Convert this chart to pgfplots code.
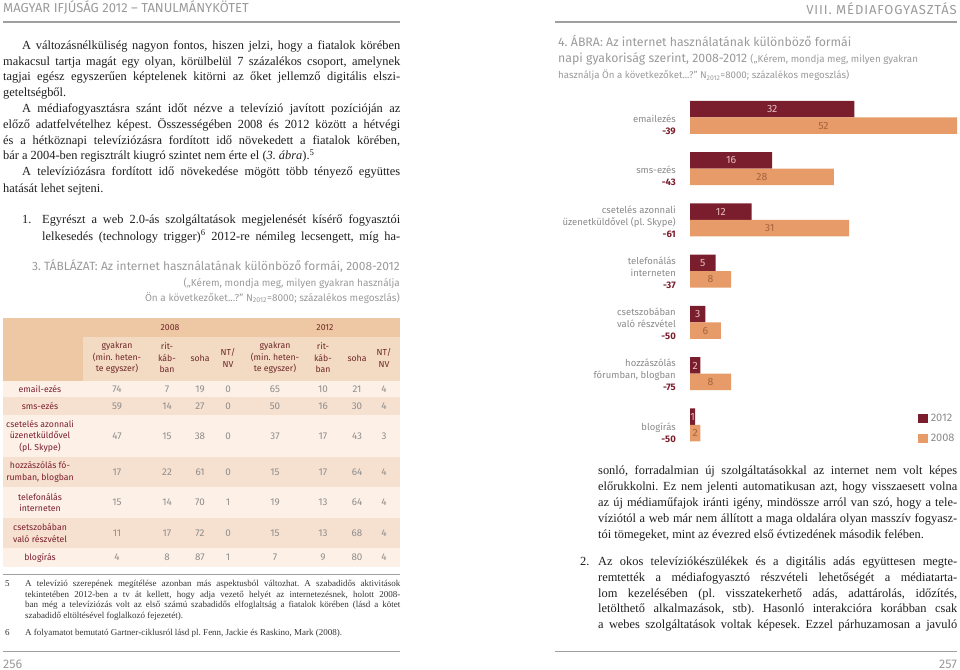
\documentclass[border=0pt]{standalone}
\usepackage{pgfplots}
\pgfplotsset{compat=1.18}
\usepackage{fontspec}
\setmainfont{Liberation Serif}
\newfontfamily\dinf{Fira Sans}
\definecolor{dred}{HTML}{7A1E2D}
\definecolor{orng}{HTML}{E69B69}
\definecolor{lpink}{HTML}{E6BEBE}
\definecolor{brn}{HTML}{A8643C}
\definecolor{lgray}{HTML}{8A8A8A}
\definecolor{tgray}{HTML}{9A9A9A}
\definecolor{rulec}{HTML}{A0A0A0}
\definecolor{hA}{HTML}{EEC8A5}
\definecolor{hB}{HTML}{F3DAC3}
\definecolor{rL}{HTML}{FDF0E6}
\definecolor{rD}{HTML}{F6E0CF}
\definecolor{hdrc}{HTML}{6E2828}
\definecolor{numc}{HTML}{8E8E8E}
\definecolor{bodyc}{HTML}{1E1E1E}
\definecolor{fnc}{HTML}{333333}
\frenchspacing
\newcommand\bodyf{\fontsize{12.4bp}{14bp}\selectfont}
\newcommand\fnf{\fontsize{9bp}{11bp}\selectfont}
\newcommand\tabf{\dinf\fontsize{8.7bp}{11.5bp}\selectfont}
\newcommand\numf{\dinf\fontsize{9.8bp}{11.5bp}\selectfont}
\newcommand\J[4]{\node[anchor=base west,inner sep=0,font=\bodyf,text=bodyc] at (#1,#2) {\hbox to #3bp{#4}};}
\newcommand\N[3]{\node[anchor=base west,inner sep=0,font=\bodyf,text=bodyc] at (#1,#2) {#3};}
\newcommand\FJ[3]{\node[anchor=base west,inner sep=0,font=\fnf,text=fnc] at (#1,#2) {\hbox to 375bp{#3}};}
\newcommand\FN[3]{\node[anchor=base west,inner sep=0,font=\fnf,text=fnc] at (#1,#2) {#3};}
\newcommand\R[9]{%
 \node[num] at (117,#1) {#2};\node[num] at (167,#1) {#3};\node[num] at (200,#1) {#4};\node[num] at (228,#1) {#5};%
 \node[num] at (275,#1) {#6};\node[num] at (323,#1) {#7};\node[num] at (357,#1) {#8};\node[num] at (384,#1) {#9};}
\begin{document}
\begin{tikzpicture}
\begin{scope}[x=1bp,y=-1bp,
  num/.style={anchor=center,inner sep=0,font=\numf,text=numc},
  lab/.style={anchor=center,inner sep=0,align=center,font=\tabf,text=dred},
  hdr/.style={anchor=center,inner sep=0,align=center,font=\tabf,text=hdrc}]
\useasboundingbox (0,0) rectangle (960,670);
% page headers
\node[anchor=base west,inner sep=0,font=\dinf\fontsize{13bp}{15bp}\selectfont,text=tgray] at (3,13) {MAGYAR IFJÚSÁG 2012 – TANULMÁNYKÖTET};
\draw[rulec,line width=1.8bp] (3,22) -- (400,22);
\node[anchor=base east,inner sep=0,font=\dinf\fontsize{13bp}{15bp}\selectfont\addfontfeature{LetterSpace=7},text=tgray] at (957,15) {VIII. MÉDIAFOGYASZTÁS};
\draw[rulec,line width=1.8bp] (555,22) -- (957,22);
% left body text
\J{22}{50}{378}{A változásnélküliség nagyon fontos, hiszen jelzi, hogy a fiatalok körében}
\J{3}{65.5}{397}{makacsul tartja magát egy olyan, körülbelül 7 százalékos csoport, amelynek}
\J{3}{81}{397}{tagjai egész egyszerűen képtelenek kitörni az őket jellemző digitális elszi-}
\N{3}{97}{geteltségből.}
\J{22}{113}{378}{A médiafogyasztásra szánt időt nézve a televízió javított pozícióján az}
\J{3}{128.5}{397}{előző adatfelvételhez képest. Összességében 2008 és 2012 között a hétvégi}
\J{3}{144.5}{397}{és a hétköznapi televíziózásra fordított idő növekedett a fiatalok körében,}
\N{3}{160}{bár a 2004-ben regisztrált kiugró szintet nem érte el (\textit{3. ábra}).\textsuperscript{5}}
\J{22}{176}{378}{A televíziózásra fordított idő növekedése mögött több tényező együttes}
\N{3}{192}{hatását lehet sejteni.}
\N{22}{223}{1.}
\J{42}{223}{358}{Egyrészt a web 2.0-ás szolgáltatások megjelenését kísérő fogyasztói}
\J{42}{240}{358}{lelkesedés (technology trigger)\textsuperscript{6} 2012-re némileg lecsengett, míg ha-}
% table title
\node[anchor=base east,inner sep=0,font=\dinf\fontsize{12bp}{14bp}\selectfont,text=tgray] at (400,270) {3. TÁBLÁZAT: Az internet használatának különböző formái, 2008-2012};
\node[anchor=base east,inner sep=0,font=\dinf\fontsize{10bp}{12bp}\selectfont,text=tgray] at (400,286) {(„Kérem, mondja meg, milyen gyakran használja};
\node[anchor=base east,inner sep=0,font=\dinf\fontsize{10bp}{12bp}\selectfont,text=tgray] at (400,301.5) {Ön a következőket...?” N\textsubscript{2012}=8000; százalékos megoszlás)};
% table backgrounds
\fill[hA] (3,318) rectangle (400,337);
\fill[hB] (3,337) rectangle (400,381);
\fill[hA] (3,337) rectangle (83,381);
\fill[rL] (3,381) rectangle (400,397);
\fill[rD] (3,397) rectangle (400,415);
\fill[rL] (3,415) rectangle (400,457);
\fill[rD] (3,457) rectangle (400,487);
\fill[rL] (3,487) rectangle (400,518);
\fill[rD] (3,518) rectangle (400,548);
\fill[rL] (3,548) rectangle (400,567);
% table header
\node[hdr] at (170,327.5) {2008};
\node[hdr] at (325,327.5) {2012};
\node[hdr] at (117,358) {gyakran\\(min. heten-\\te egyszer)};
\node[hdr] at (167,358) {rit-\\káb-\\ban};
\node[hdr] at (200,358) {soha};
\node[hdr] at (228,358) {NT/\\NV};
\node[hdr] at (275,358) {gyakran\\(min. heten-\\te egyszer)};
\node[hdr] at (323,358) {rit-\\káb-\\ban};
\node[hdr] at (357,358) {soha};
\node[hdr] at (384,358) {NT/\\NV};
% table rows
\node[lab] at (40,389) {email-ezés};
\node[lab] at (40,406) {sms-ezés};
\node[lab] at (40,436) {csetelés azonnali\\üzenetküldővel\\(pl. Skype)};
\node[lab] at (40,472) {hozzászólás fó-\\rumban, blogban};
\node[lab] at (40,502.5) {telefonálás\\interneten};
\node[lab] at (40,533) {csetszobában\\való részvétel};
\node[lab] at (40,557.5) {blogírás};
\R{389}{74}{7}{19}{0}{65}{10}{21}{4}
\R{406}{59}{14}{27}{0}{50}{16}{30}{4}
\R{436}{47}{15}{38}{0}{37}{17}{43}{3}
\R{472}{17}{22}{61}{0}{15}{17}{64}{4}
\R{502.5}{15}{14}{70}{1}{19}{13}{64}{4}
\R{533}{11}{17}{72}{0}{15}{13}{68}{4}
\R{557.5}{4}{8}{87}{1}{7}{9}{80}{4}
% footnotes
\draw[rulec,line width=1bp] (3,574) -- (400,574);
\FN{5}{586}{5}
\FJ{25}{586}{A televízió szerepének megítélése azonban más aspektusból változhat. A szabadidős aktivitások}
\FJ{25}{597}{tekintetében 2012-ben a tv át kellett, hogy adja vezető helyét az internetezésnek, holott 2008-}
\FJ{25}{607.5}{ban még a televíziózás volt az első számú szabadidős elfoglaltság a fiatalok körében (lásd a kötet}
\FN{25}{618}{szabadidő eltöltésével foglalkozó fejezetét).}
\FN{5}{635}{6}
\FN{25}{635}{A folyamatot bemutató Gartner-ciklusról lásd pl. Fenn, Jackie és Raskino, Mark (2008).}
\draw[rulec,line width=1bp] (3,651) -- (400,651);
\node[anchor=base west,inner sep=0,font=\dinf\fontsize{12.5bp}{14bp}\selectfont,text=tgray] at (3,668) {256};
% right page title
\node[anchor=base west,inner sep=0,font=\dinf\fontsize{12.3bp}{15bp}\selectfont,text=tgray] at (558,47) {4. ÁBRA: Az internet használatának különböző formái};
\node[anchor=base west,inner sep=0,text=tgray] at (558,63) {\dinf\fontsize{12.3bp}{15bp}\selectfont napi gyakoriság szerint, 2008-2012 \fontsize{9.8bp}{12bp}\selectfont(„Kérem, mondja meg, milyen gyakran};
\node[anchor=base west,inner sep=0,font=\dinf\fontsize{9.7bp}{11bp}\selectfont,text=tgray] at (558,79) {használja Ön a következőket...?” N\textsubscript{2012}=8000; százalékos megoszlás)};
% right body text
\J{598}{474}{359}{sonló, forradalmian új szolgáltatásokkal az internet nem volt képes}
\J{598}{490}{359}{előrukkolni. Ez nem jelenti automatikusan azt, hogy visszaesett volna}
\J{598}{506}{359}{az új médiaműfajok iránti igény, mindössze arról van szó, hogy a tele-}
\J{598}{522}{359}{víziótól a web már nem állított a maga oldalára olyan masszív fogyasz-}
\N{598}{538}{tói tömegeket, mint az évezred első évtizedének második felében.}
\N{580}{565}{2.}
\J{598}{565}{359}{Az okos televíziókészülékek és a digitális adás együttesen megte-}
\J{598}{581}{359}{remtették a médiafogyasztó részvételi lehetőségét a médiatarta-}
\J{598}{597}{359}{lom kezelésében (pl. visszatekerhető adás, adattárolás, időzítés,}
\J{598}{612}{359}{letölthető alkalmazások, stb). Hasonló interakcióra korábban csak}
\J{598}{628}{359}{a webes szolgáltatások voltak képesek. Ezzel párhuzamosan a javuló}
\draw[rulec,line width=1bp] (555,651) -- (957,651);
\node[anchor=base east,inner sep=0,font=\dinf\fontsize{12.5bp}{14bp}\selectfont,text=tgray] at (957,668) {257};
\end{scope}
\begin{axis}[
  at={(690bp,-450.6bp)}, anchor=south west,
  x=5.135bp, y=51.25bp,
  xmin=0, xmax=52, ymin=-0.5, ymax=6.5,
  axis line style={draw=none},
  xtick=\empty, ytick={0,1,2,3,4,5,6}, major tick length=0,
  yticklabels={
    {blogírás\\\textcolor{dred}{\bfseries -50}},
    {hozzászólás\\fórumban, blogban\\\textcolor{dred}{\bfseries -75}},
    {csetszobában\\való részvétel\\\textcolor{dred}{\bfseries -50}},
    {telefonálás\\interneten\\\textcolor{dred}{\bfseries -37}},
    {csetelés azonnali\\üzenetküldővel (pl. Skype)\\\textcolor{dred}{\bfseries -61}},
    {sms-ezés\\\textcolor{dred}{\bfseries -43}},
    {emailezés\\\textcolor{dred}{\bfseries -39}}},
  yticklabel style={anchor=south east, align=right, inner sep=0, xshift=-14bp, yshift=-17.5bp,
     font=\dinf\fontsize{9.5bp}{12bp}\selectfont, text=lgray},
  xbar, bar width=16.5bp, clip=false,
  point meta=x,
  /pgf/number format/assume math mode=true,
  visualization depends on={x \as \rawx},
  legend style={at={(axis description cs:0.854,0.11)}, anchor=north west, draw=none, fill=none,
     inner sep=0pt, row sep=6.5bp, font=\dinf\fontsize{11bp}{13bp}\selectfont, text=lgray,
     nodes={inner sep=2.5bp}},
  legend cell align=left,
  legend image code/.code={\fill[#1] (0bp,-4.5bp) rectangle (10bp,4.5bp);},
]
\addplot[fill=dred, draw=none, bar shift=8.25bp, nodes near coords,
  every node near coord/.append style={anchor=center, shift={(axis direction cs:-\rawx/2,0)},
    font=\dinf\fontsize{10.5bp}{12bp}\selectfont, text=lpink}]
  coordinates {(1,0) (2,1) (3,2) (5,3) (12,4) (16,5) (32,6)};
\addlegendentry{2012}
\addplot[fill=orng, draw=none, bar shift=-8.25bp, nodes near coords,
  every node near coord/.append style={anchor=center, shift={(axis direction cs:-\rawx/2,0)},
    font=\dinf\fontsize{10.5bp}{12bp}\selectfont, text=brn}]
  coordinates {(2,0) (8,1) (6,2) (8,3) (31,4) (28,5) (52,6)};
\addlegendentry{2008}
\end{axis}
\end{tikzpicture}
\end{document}
